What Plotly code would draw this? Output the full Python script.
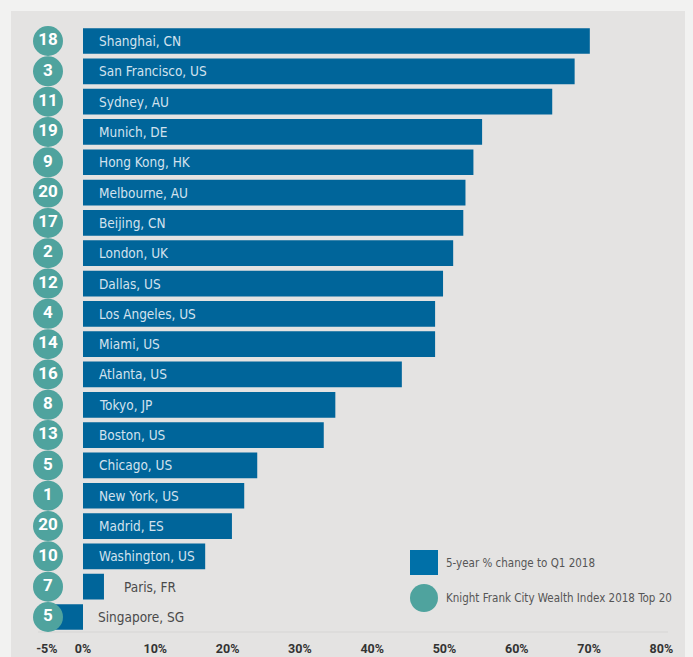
import plotly.graph_objects as go

cities = ["Shanghai, CN", "San Francisco, US", "Sydney, AU", "Munich, DE", "Hong Kong, HK",
          "Melbourne, AU", "Beijing, CN", "London, UK", "Dallas, US", "Los Angeles, US",
          "Miami, US", "Atlanta, US", "Tokyo, JP", "Boston, US", "Chicago, US",
          "New York, US", "Madrid, ES", "Washington, US", "Paris, FR", "Singapore, SG"]
change_5yr = [70.1, 68.0, 64.9, 55.2, 54.0, 52.9, 52.6, 51.2, 49.8, 48.7,
              48.7, 44.1, 34.9, 33.3, 24.1, 22.3, 20.6, 16.9, 2.9, -4.1]
wealth_rank = [18, 3, 11, 19, 9, 20, 17, 2, 12, 4, 14, 16, 8, 13, 5, 1, 20, 10, 7, 5]
tick_vals = [-5, 0, 10, 20, 30, 40, 50, 60, 70, 80]
tick_text = ["-5%", "0%", "10%", "20%", "30%", "40%", "50%", "60%", "70%", "80%"]
legend_labels = ["5-year % change to Q1 2018", "Knight Frank City Wealth Index 2018 Top 20"]

W, H = 693, 657
BAR = "#00659a"
TEAL = "#4fa39e"
PANEL = "#e4e3e2"
OUTER = "#f2f2f1"
FONT = "DejaVu Sans Condensed, Roboto, sans-serif"
BOLDFONT = "Roboto, DejaVu Sans Condensed, sans-serif"

px0, pxpp = 83.0, 7.23  # pixel of 0% and pixels per percent
dom_x = [11 / W, 685 / W]
xr = [(11 - px0) / pxpp, (685 - px0) / pxpp]
top_px, bot_px = 25.85, 632.15
dom_y = [(H - bot_px) / H, (H - top_px) / H]
circle_x = (48 - px0) / pxpp

fig = go.Figure()
fig.add_trace(go.Bar(
    y=cities, x=change_5yr, orientation="h", marker=dict(color=BAR, line=dict(width=0)),
    hoverinfo="x+y", showlegend=False))
fig.add_trace(go.Scatter(
    y=cities, x=[circle_x] * len(cities), mode="markers+text",
    marker=dict(size=30, color=TEAL, line=dict(width=0)),
    text=[str(r) for r in wealth_rank], textposition="middle center",
    textfont=dict(family=BOLDFONT, size=17, color="white", weight="bold"),
    hoverinfo="skip", showlegend=False, cliponaxis=False))

annotations = []
for c, v in zip(cities, change_5yr):
    if v >= 8:
        annotations.append(dict(x=0, y=c, xref="x", yref="y", text=c, showarrow=False,
                                xanchor="left", xshift=14,
                                font=dict(family=FONT, size=13.5, color="#d3e2ee")))
    else:
        annotations.append(dict(x=max(v, 0), y=c, xref="x", yref="y", text=c, showarrow=False,
                                xanchor="left", xshift=18 if v > 0 else 13,
                                font=dict(family=FONT, size=13.5, color="#4a4a4a")))

# legend (drawn manually)
annotations.append(dict(x=444 / W, y=1 - 563 / H, xref="paper", yref="paper", text=legend_labels[0],
                        showarrow=False, xanchor="left", yanchor="middle",
                        font=dict(family=FONT, size=11.5, color="#555555")))
annotations.append(dict(x=444 / W, y=1 - 598 / H, xref="paper", yref="paper", text=legend_labels[1],
                        showarrow=False, xanchor="left", yanchor="middle",
                        font=dict(family=FONT, size=11.5, color="#555555")))

shapes = [
    dict(type="rect", xref="paper", yref="paper", x0=11 / W, x1=685 / W, y0=0, y1=1 - 11 / H,
         fillcolor=PANEL, line=dict(width=0), layer="below"),
    dict(type="line", xref="paper", yref="paper", x0=38 / W, x1=668 / W, y0=1 - 632 / H, y1=1 - 632 / H,
         line=dict(color="#d6d5d4", width=1), layer="below"),
    dict(type="rect", xref="paper", yref="paper", x0=410 / W, x1=438 / W, y0=1 - 575 / H, y1=1 - 550 / H,
         fillcolor="#0070a8", line=dict(width=0)),
    dict(type="circle", xref="paper", yref="paper", x0=410 / W, x1=438 / W, y0=1 - 612 / H, y1=1 - 584 / H,
         fillcolor=TEAL, line=dict(width=0)),
]

fig.update_layout(
    width=W, height=H, margin=dict(l=0, r=0, t=0, b=0, autoexpand=False),
    paper_bgcolor=OUTER, plot_bgcolor="rgba(0,0,0,0)",
    bargap=0.152, showlegend=False,
    annotations=annotations, shapes=shapes,
    xaxis=dict(domain=dom_x, range=xr, tickvals=tick_vals, ticktext=tick_text,
               showgrid=False, zeroline=False, showline=False, ticks="", automargin=False,
               ticklabelstandoff=7,
               tickfont=dict(family=BOLDFONT, size=12.5, color="#333333", weight="bold")),
    yaxis=dict(domain=dom_y, range=[len(cities) - 0.5, -0.5], showticklabels=False, showgrid=False,
               zeroline=False, showline=False, ticks="", automargin=False),
)

fig.write_html("out.html", config={"displayModeBar": False},
               post_script="document.body.style.margin='0';document.body.style.overflow='hidden';")
